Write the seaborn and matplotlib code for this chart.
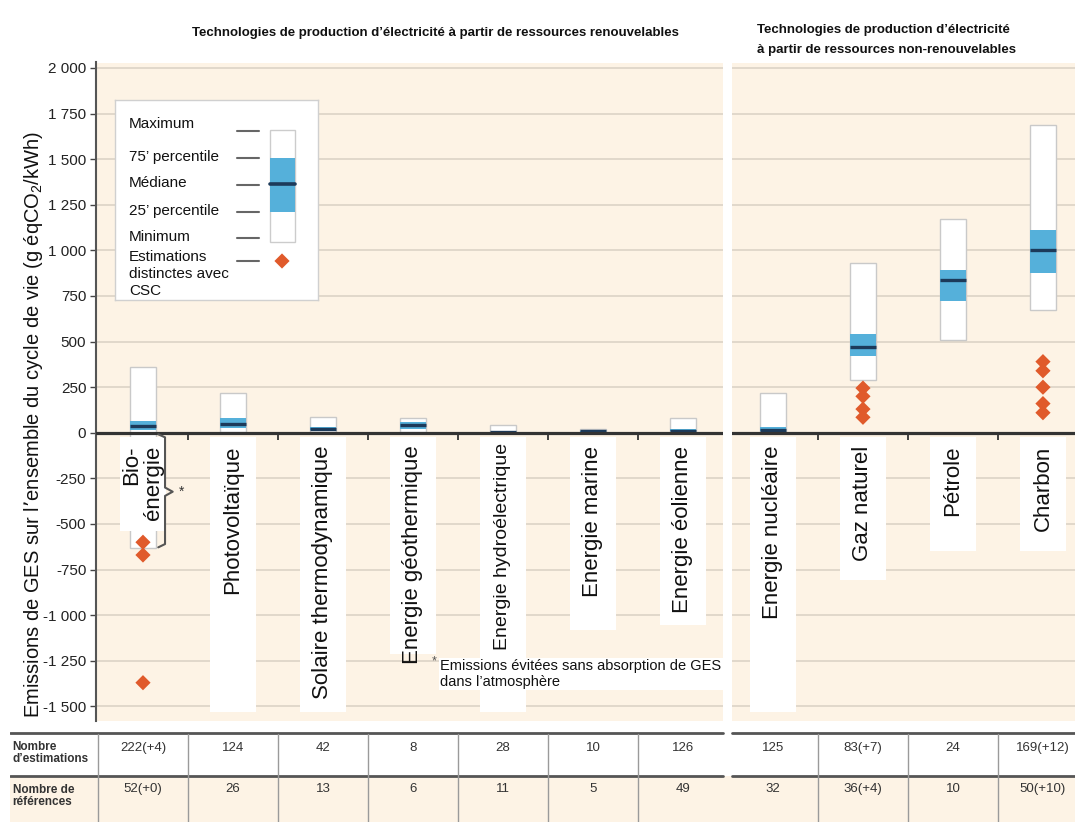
import numpy as np
import pandas as pd
import matplotlib
matplotlib.use("Agg")
import matplotlib.pyplot as plt
from matplotlib.patches import Rectangle
from matplotlib.ticker import FuncFormatter
import seaborn as sns

# ---------------- data ----------------
categories = ["Bio-\nénergie", "Photovoltaïque", "Solaire thermodynamique",
              "Energie géothermique", "Energie hydroélectrique", "Energie marine",
              "Energie éolienne", "Energie nucléaire", "Gaz naturel", "Pétrole", "Charbon"]
minimum = [-633, 5, 7, 6, 0, 2, 2, 1, 290, 510, 675]
p25 = [15, 29, 14, 20, 3, 6, 8, 8, 420, 720, 877]
median = [35, 46, 22, 45, 4, 8, 12, 14, 469, 840, 1001]
p75 = [66, 80, 32, 57, 7, 9, 20, 30, 540, 893, 1112]
maximum = [360, 217, 89, 79, 43, 23, 81, 220, 930, 1170, 1689]

ccs_category = ["Bio-\nénergie"] * 3 + ["Gaz naturel"] * 4 + ["Charbon"] * 5
ccs_values = [-600, -670, -1370,
              245, 200, 130, 85,
              390, 340, 250, 160, 110]

n_estimates = ["222(+4)", "124", "42", "8", "28", "10", "126", "125", "83(+7)", "24", "169(+12)"]
n_references = ["52(+0)", "26", "13", "6", "11", "5", "49", "32", "36(+4)", "10", "50(+10)"]

yticks = [-1500, -1250, -1000, -750, -500, -250, 0, 250, 500, 750, 1000, 1250, 1500, 1750, 2000]

# ---------------- style ----------------
sns.set_theme(style="white")
plt.rcParams["font.family"] = ["Liberation Sans", "DejaVu Sans"]

CREAM = "#FDF3E5"
BLUE = "#55B0DA"
NAVY = "#1C3A5A"
ORANGE = "#E05A2B"
GRID = "#D9D1C4"

W, H = 1081, 825
fig = plt.figure(figsize=(W / 100, H / 100), dpi=100)
fig.patch.set_facecolor("white")

def fx(px):
    return px / W

def fy(py):
    return 1 - py / H

ax_left, ax_right, ax_top, ax_bot = 96, 1075, 62.5, 721
ax = fig.add_axes([fx(ax_left), fy(ax_bot), fx(ax_right - ax_left), (ax_bot - ax_top) / H])
ax.set_facecolor(CREAM)

pos = np.arange(len(categories))
xlim = (-0.522, 10.356)
ax.set_xlim(*xlim)
ax.set_ylim(-1580, 2030)

df = pd.DataFrame({"cat": categories, "pos": pos, "min": minimum, "p25": p25,
                   "med": median, "p75": p75, "max": maximum})

# boxes: white min-max, blue interquartile, navy median
bw = 0.29
ax.bar(df["pos"], df["max"] - df["min"], bottom=df["min"], width=bw,
       color="white", edgecolor="#C9C9C9", linewidth=1.0, zorder=2)
ax.bar(df["pos"], df["p75"] - df["p25"], bottom=df["p25"], width=bw,
       color=BLUE, edgecolor="none", linewidth=0, zorder=2.1)
ax.hlines(df["med"], df["pos"] - bw / 2, df["pos"] + bw / 2, color=NAVY, lw=2.4, zorder=2.2)

# CCS estimates
cat_to_pos = dict(zip(categories, pos))
df_ccs = pd.DataFrame({"cat": ccs_category, "value": ccs_values})
df_ccs["pos"] = df_ccs["cat"].map(cat_to_pos)
sns.scatterplot(data=df_ccs, x="pos", y="value", marker="D", s=60, color=ORANGE,
                edgecolor="none", legend=False, ax=ax, zorder=3.5)

# grid, axes
ax.set_yticks(yticks)
ax.yaxis.set_major_formatter(FuncFormatter(lambda v, p: f"{int(v):,}".replace(",", "\u00a0")))
ax.yaxis.grid(True, color=GRID, lw=1.1, zorder=0)
ax.set_axisbelow(True)
ax.set_xticks([])
ax.tick_params(axis="y", length=4, width=1, color="#444444", labelsize=11,
               labelcolor="#222222", left=True, pad=3)
for s in ["top", "right", "bottom"]:
    ax.spines[s].set_visible(False)
ax.spines["left"].set_color("#555555")
ax.spines["left"].set_linewidth(1.5)
ax.set_xlabel("")
ax.set_ylabel("Emissions de GES sur l’ensemble du cycle de vie (g éqCO$_\\mathregular{2}$/kWh)",
              fontsize=14.5, color="#111111")
ax.yaxis.set_label_coords((45 - ax_left) / (ax_right - ax_left), (ax_bot - 424) / (ax_bot - ax_top))

# zero line and small ticks
ax.axhline(0, color="#333333", lw=2.3, zorder=4)
mids = pos[:-1] + 0.5
ax.vlines(mids, -38, 0, color="#333333", lw=1.3, zorder=4)

# category labels in white boxes
label_bottoms = [-540, -1530, -1530, -1215, -1530, -1080, -1055, -1530, -805, -650, -650]
label_sizes = [16, 16, 16, 16, 14, 16, 16, 16, 16, 16, 16]
label_tops = [-70, -70, -70, -70, -55, -70, -70, -70, -70, -70, -70]
for p, lab, b, fs, tt in zip(pos, categories, label_bottoms, label_sizes, label_tops):
    ax.add_patch(Rectangle((p - 0.26, b), 0.52, -22 - b, facecolor="white",
                           edgecolor="none", zorder=3))
    ax.text(p, tt, lab, rotation=90, ha="center", va="top", fontsize=fs,
            color="#111111", zorder=4, linespacing=1.05, multialignment="right")

# bracket for bioenergy
bx = [0.17, 0.245, 0.245, 0.33, 0.245, 0.245, 0.17]
by = [-8, -25, -300, -323, -346, -610, -628]
ax.plot(bx, by, color="#555555", lw=1.5, zorder=4.5)
ax.text(0.43, -323, "*", ha="center", va="center", fontsize=10, color="#333333", zorder=4.5)

# footnote
ax.text(3.21, -1255, "*", ha="left", va="center", fontsize=9, color="#555555", zorder=4.5)
ax.text(3.3, -1240, "Emissions évitées sans absorption de GES\ndans l’atmosphère",
        ha="left", va="top", fontsize=10.5, color="#111111", zorder=4.5, linespacing=1.15,
        bbox=dict(facecolor="white", edgecolor="none", pad=1.0))

# separation between renewable / non-renewable panels
ax.axvspan(6.45, 6.55, color="white", zorder=6, lw=0)

# ---------------- titles ----------------
fig.text(fx(435), fy(33), "Technologies de production d’électricité à partir de ressources renouvelables",
         ha="center", va="center", fontsize=9.5, fontweight="bold", color="#111111")
fig.text(fx(757), fy(40), "Technologies de production d’électricité\nà partir de ressources non-renouvelables",
         ha="left", va="center", fontsize=9.5, fontweight="bold", color="#111111", linespacing=2.0,
         bbox=dict(facecolor="white", edgecolor="none", pad=2))

# ---------------- legend panel ----------------
lax = fig.add_axes([fx(115), fy(300), fx(203), 200 / H])
lax.set_xlim(115, 318)
lax.set_ylim(300, 100)
lax.set_facecolor("white")
lax.set_xticks([])
lax.set_yticks([])
for s in lax.spines.values():
    s.set_color("#D0D0D0")
    s.set_linewidth(1.0)
leg_items = [("Maximum", 124, 131), ("75’ percentile", 157, 158), ("Médiane", 183, 185),
             ("25’ percentile", 211, 212), ("Minimum", 237, 238)]
for txt, ty, dy in leg_items:
    lax.text(129, ty, txt, ha="left", va="center", fontsize=11, color="#111111")
    lax.plot([237, 259], [dy, dy], color="#666666", lw=1.5)
lax.text(129, 274, "Estimations\ndistinctes avec\nCSC", ha="left", va="center",
         fontsize=11, color="#111111", linespacing=1.3)
lax.plot([237, 259], [261, 261], color="#666666", lw=1.5)
lax.add_patch(Rectangle((270, 130), 25, 112, facecolor="white", edgecolor="#CCCCCC", lw=1))
lax.add_patch(Rectangle((270, 158), 25, 54, facecolor=BLUE, edgecolor="none"))
lax.plot([270, 295], [184, 184], color=NAVY, lw=2.6)
lax.scatter([282], [261], marker="D", s=60, color=ORANGE, edgecolor="none")

# ---------------- table ----------------
t_left, t_top, t_bot = 10, 728, 822
tax = fig.add_axes([fx(t_left), fy(t_bot), fx(ax_right - t_left), (t_bot - t_top) / H])
tax.set_xlim((t_left - 143) / 90, xlim[1])
tax.set_ylim(t_bot, t_top)
tax.axis("off")
x0 = tax.get_xlim()[0]
tax.add_patch(Rectangle((x0, 776), xlim[1] - x0, t_bot - 776, facecolor=CREAM, edgecolor="none"))
for yline in (733, 776):
    tax.plot([x0, 6.45], [yline, yline], color="#555555", lw=2.0)
    tax.plot([6.55, xlim[1]], [yline, yline], color="#555555", lw=2.0)
for xv in [-0.5] + list(pos[:-1] + 0.5):
    if abs(xv - 6.5) < 1e-6:
        continue
    tax.plot([xv, xv], [734, t_bot], color="#9A9A9A", lw=1.0)
tax.text(x0 + 0.03, 753, "Nombre\nd’estimations", ha="left", va="center", fontsize=8.5,
         fontweight="bold", color="#333333", linespacing=1.1)
tax.text(x0 + 0.03, 796, "Nombre de\nréférences", ha="left", va="center", fontsize=8.5,
         fontweight="bold", color="#333333", linespacing=1.1)
for p, ne, nr in zip(pos, n_estimates, n_references):
    tax.text(p, 748, ne, ha="center", va="center", fontsize=9.5, color="#333333")
    tax.text(p, 789, nr, ha="center", va="center", fontsize=9.5, color="#333333")

fig.savefig("out.png", dpi=100)
